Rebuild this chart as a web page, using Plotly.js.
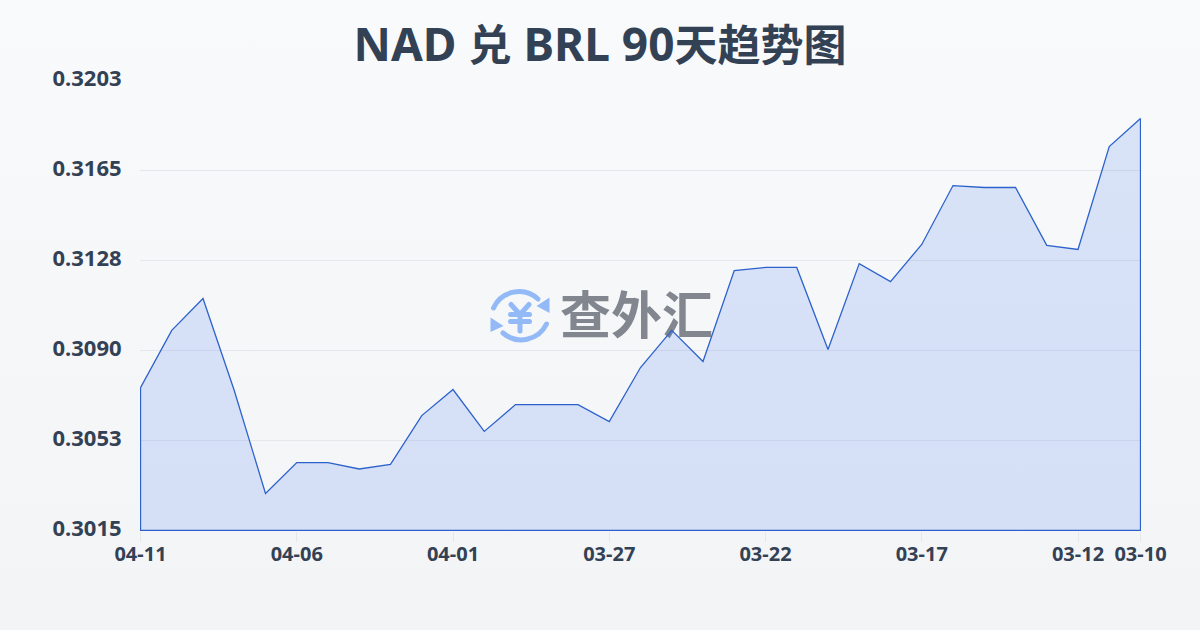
<!DOCTYPE html>
<html><head><meta charset="utf-8">
<script src="https://cdn.plot.ly/plotly-3.0.1.min.js"></script>
<style>html,body{margin:0;padding:0;width:1200px;height:630px;overflow:hidden;background:linear-gradient(180deg,#f8fafc 0%,#f3f4f6 100%)}#c{width:1200px;height:630px}</style>
</head><body><div id="c"></div>
<script>
const categories=['04-11','04-10','04-09','04-08','04-07','04-06','04-05','04-04','04-03','04-02','04-01','03-31','03-30','03-29','03-28','03-27','03-26','03-25','03-24','03-23','03-22','03-21','03-20','03-19','03-18','03-17','03-16','03-15','03-14','03-13','03-12','03-11','03-10'];
const rates=[0.30747,0.30986,0.31119,0.30735,0.30305,0.30434,0.30434,0.30407,0.30426,0.30630,0.30739,0.30564,0.30676,0.30676,0.30676,0.30605,0.30831,0.30986,0.30856,0.31236,0.31249,0.31249,0.30906,0.31265,0.31190,0.31345,0.31591,0.31583,0.31583,0.31341,0.31324,0.31754,0.31871];
const yTicks=[0.3015,0.30526,0.30902,0.31278,0.31654,0.3203];
const yLabels=['0.3015','0.3053','0.3090','0.3128','0.3165','0.3203'];
const xLabels=['04-11','04-06','04-01','03-27','03-22','03-17','03-12','03-10'];
const titleText='NAD 兑 BRL 90天趋势图';
const watermark='查外汇';
const ink='#334155';
const family='"Noto Sans","Noto Sans CJK SC",sans-serif';
const icon=`<svg xmlns="http://www.w3.org/2000/svg" viewBox="0 0 60 60"><g fill="none" stroke="#93b9f7" stroke-width="5" stroke-linecap="round" stroke-linejoin="round"><path d="M3.5 21A28 28 0 0 1 48 12"/><path d="M56.5 37A28 28 0 0 1 13 46"/><path d="M21 17.5L30 27.5L39 17.5M20.5 27.5H39.5M20.5 34.5H39.5M30 27.5V44"/></g><path d="M59.5 10.5V26L46.5 19Z M0.5 30.5V45L13.5 39Z" fill="#93b9f7"/></svg>`;
const last=categories.length-1, base=yTicks[0];
const xs=categories.map((_,i)=>i);
const polyX=[...xs,last,0,0];
const polyY=[...rates,base,base,rates[0]];
const titleMarkup=titleText.replace(/[\u4e00-\u9fff]+/g,m=>`<span style="font-size:43px">${m}</span>`);
const traces=[
 {x:[15.87],y:[0.31025],mode:'text',text:[watermark],textposition:'middle center',textfont:{family:'"Noto Sans CJK SC"',size:51,weight:700,color:'#81868f'},hoverinfo:'skip',showlegend:false},
 {x:polyX,y:polyY,mode:'lines',fill:'toself',fillcolor:'rgba(37,99,235,0.15)',line:{color:'#2d62cc',width:1.3},cliponaxis:false,hoverinfo:'skip',showlegend:false}
];
const layout={
 width:1200,height:630,margin:{l:140,r:59,t:80,b:99},
 paper_bgcolor:'rgba(0,0,0,0)',plot_bgcolor:'rgba(0,0,0,0)',showlegend:false,
 font:{family:family,color:ink},
 title:{text:titleMarkup,x:0.5,xanchor:'center',y:0.928,yanchor:'middle',font:{family:family,size:46,weight:700,color:ink}},
 xaxis:{range:[-0.016,last+0.016],tickmode:'array',tickvals:xLabels.map(l=>categories.indexOf(l)),ticktext:xLabels,showgrid:false,zeroline:false,showline:false,ticks:'outside',ticklen:10,tickcolor:'#e5e7eb',tickwidth:1,ticklabelstandoff:-5,tickfont:{size:20,weight:700,color:ink},tickangle:0,automargin:false},
 yaxis:{range:[yTicks[0]-0.00002,yTicks[5]+0.00002],tickmode:'array',tickvals:yTicks,ticktext:yLabels,showgrid:true,gridcolor:'#e5e7eb',gridwidth:1,zeroline:false,showline:false,ticks:'outside',ticklen:13,tickcolor:'rgba(0,0,0,0)',ticklabelshift:-2,tickfont:{size:22,weight:700,color:ink},automargin:false},
 images:[{source:'data:image/svg+xml;utf8,'+encodeURIComponent(icon),xref:'paper',yref:'paper',x:(490-140)/1001,y:(530-286)/451,sizex:60/1001,sizey:60/451,xanchor:'left',yanchor:'top',layer:'below'}]
};
Plotly.newPlot('c',traces,layout,{staticPlot:true,displayModeBar:false});
</script></body></html>
